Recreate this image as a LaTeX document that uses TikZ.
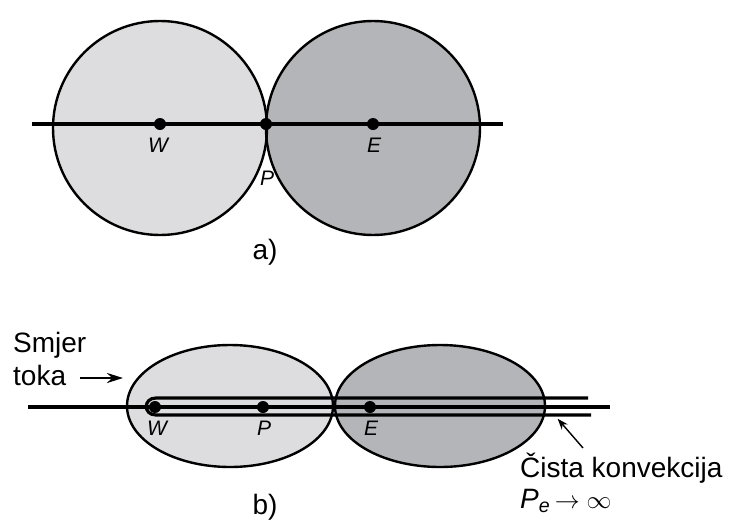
\documentclass[tikz,border=0pt]{standalone}
\usepackage{fontspec}
\setsansfont{Liberation Sans}
\usetikzlibrary{arrows.meta,positioning}
\definecolor{cellW}{RGB}{221,221,223}
\definecolor{cellE}{RGB}{180,181,184}

\begin{document}
\begin{tikzpicture}[
  x=1pt,y=-1pt,
  font=\sffamily\fontsize{28}{33}\selectfont,
  >=Stealth,
  cell/.style={draw=black,line width=2.4pt},
  axis/.style={line width=3.2pt,draw=black},
  stream/.style={line width=3.2pt,draw=black},
  pt/.style={circle,fill=black,inner sep=0pt,minimum size=12pt},
  ptlabel/.style={font=\sffamily\itshape\fontsize{21}{24}\selectfont,inner sep=1pt},
  caption/.style={inner sep=0pt},
  pointer/.style={-{Stealth[length=11pt,width=8pt]},line width=1.4pt,shorten >=1pt}
]
  \useasboundingbox (0,0) rectangle (736,520);

  % a) two touching control volumes
  \fill[cellW] (160,128) circle[radius=107];
  \fill[cellE] (373,128) circle[radius=107];
  \draw[cell] (160,128) circle[radius=107];
  \draw[cell] (373,128) circle[radius=107];

  \coordinate (a-left) at (32,124);
  \coordinate (a-right) at (503,124);
  \draw[axis] (a-left) -- (a-right);
  \node[pt] (aW) at (160,124) {};
  \node[pt] (aP) at (266,124) {};
  \node[pt] (aE) at (373,124) {};
  \node[ptlabel] (aWlab) at (158,145) {W};
  \node[ptlabel] (aElab) at (374,145) {E};
  \node[ptlabel] (aPlab) at (267,178) {P};
  \node[caption] (capA) at (265,252) {a)};

  % b) stretched volumes under pure convection
  \fill[cellW] (230,406) ellipse[x radius=103,y radius=61];
  \fill[cellE] (440,406) ellipse[x radius=105,y radius=61];
  \draw[cell] (230,406) ellipse[x radius=103,y radius=61];
  \draw[cell] (440,406) ellipse[x radius=105,y radius=61];

  \coordinate (b-left) at (28,407);
  \coordinate (b-right) at (610,407);
  \coordinate (hp-top) at (588,398);
  \coordinate (hp-bot) at (591,415);
  \draw[axis] (b-left) -- (b-right);
  \draw[stream] (hp-top) -- (156,398)
    .. controls (143,398) and (143,415) .. (156,415) -- (hp-bot);
  \node[pt] (bW) at (155,407) {};
  \node[pt] (bP) at (263,407) {};
  \node[pt] (bE) at (370,407) {};
  \node[ptlabel] (bWlab) at (157,428) {W};
  \node[ptlabel] (bPlab) at (264,428) {P};
  \node[ptlabel] (bElab) at (371,428) {E};
  \node[caption] (capB) at (265,507) {b)};

  % flow direction and the pure-convection note
  \node[caption,align=left,anchor=west] (flow) at (13,359) {Smjer\\toka};
  \coordinate (flow-tip) at (123,378);
  \draw[-{Stealth[length=16pt,width=10pt]},line width=2.6pt] (80,378) -- (flow-tip);
  \node[caption,anchor=west] (conv) at (520,468) {Čista konvekcija};
  \node[caption,anchor=west] (peclet) at (520,501)
    {\textit{P}\textsubscript{\textit{e}}\,$\rightarrow\infty$};
  \coordinate (conv-tip) at (557,418);
  \draw[pointer] (583,448) -- (conv-tip);
\end{tikzpicture}
\end{document}
